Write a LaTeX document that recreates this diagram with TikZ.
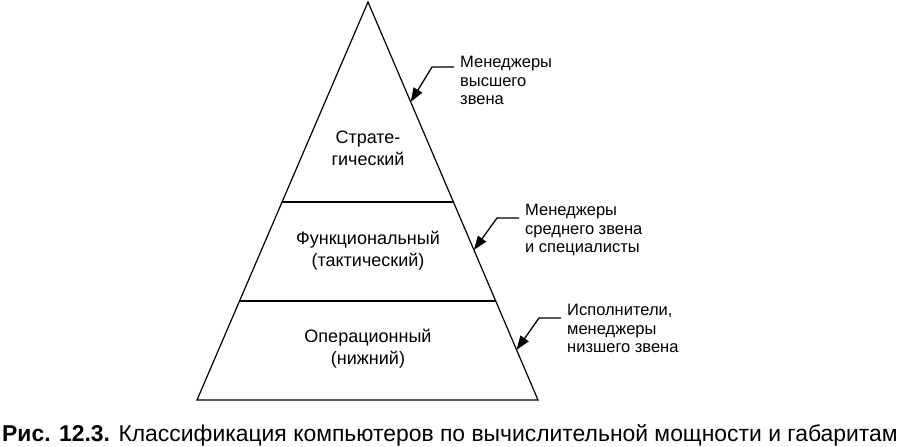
\documentclass[tikz,border=0pt]{standalone}
\usepackage{fontspec}
\setmainfont{Liberation Sans}
\usetikzlibrary{arrows.meta,calc,positioning}

\begin{document}
\begin{tikzpicture}[x=1pt, y=-1pt,
    level/.style={font=\fontsize{18}{22}\selectfont, align=center, inner sep=0pt},
    note/.style={font=\fontsize{16.5}{18.5}\selectfont, align=left, anchor=north west, inner sep=0pt},
    callout/.style={line width=1.3pt, -{Triangle[length=14pt,width=10pt]}}]
  \useasboundingbox (0,0) rectangle (903,447);
  % pyramid
  \coordinate (apex) at (368,2);
  \coordinate (bl) at (197,400);
  \coordinate (br) at (538,400);
  \draw[line width=1.2pt] (apex) -- (bl) -- (br) -- cycle;
  \draw[line width=1.2pt] ($(apex)!0.5025!(bl)$) -- ($(apex)!0.5025!(br)$);
  \draw[line width=1.2pt] ($(apex)!0.751!(bl)$) -- ($(apex)!0.751!(br)$);
  % levels
  \node[level] (strat) at (368,148) {Страте-\\гический};
  \node[level] (func) at (368,251) {Функциональный\\(тактический)};
  \node[level] (oper) at (368,349) {Операционный\\(нижний)};
  % who works there
  \node[note] (top) at (460,56) {Менеджеры\\высшего\\звена};
  \node[note] (mid) at (525,204) {Менеджеры\\среднего звена\\и специалисты};
  \node[note] (low) at (567,304) {Исполнители,\\менеджеры\\низшего звена};
  \foreach \n/\t/\dy in {top/0.251/11, mid/0.623/14, low/0.874/14} {
    \draw[callout] ($(\n.north west)+(-6,\dy)$) -- ++(-22,0) -- ($(apex)!\t!(br)$);
  }
  % caption
  \node[anchor=base west, inner sep=0pt, font=\fontsize{22.9}{26}\selectfont] (cap) at (2,441)
    {\textbf{Рис. 12.3.} Классификация компьютеров по вычислительной мощности и габаритам};
\end{tikzpicture}
\end{document}
